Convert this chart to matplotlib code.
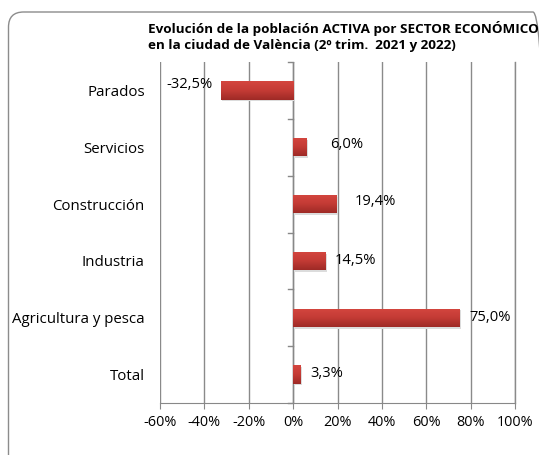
import matplotlib
matplotlib.use("Agg")
import matplotlib.pyplot as plt
import numpy as np
from matplotlib.patches import FancyBboxPatch
from matplotlib.colors import LinearSegmentedColormap

categories = ["Parados", "Servicios", "Construcción", "Industria", "Agricultura y pesca", "Total"]
values = [-32.5, 6.0, 19.4, 14.5, 75.0, 3.3]
xticks = [-60, -40, -20, 0, 20, 40, 60, 80, 100]
xticklabels = ["-60%", "-40%", "-20%", "0%", "20%", "40%", "60%", "80%", "100%"]
# label offsets (points) as placed in the original
label_dx = [-6, 17, 13, 6.5, 7, 7]
label_dy = [4, 2, 1.5, 0, 0, 0.5]

W, H = 539, 455
fig = plt.figure(figsize=(W/100, H/100), dpi=100)
plt.rcParams['font.family'] = ['Open Sans', 'DejaVu Sans']

# rounded frame (right and bottom edges lie outside the picture)
frame = FancyBboxPatch((8.5/W, -0.2), (548 - 8.5)/W, 1.2 - 12/H,
                       boxstyle="round,pad=0,rounding_size=0.028",
                       transform=fig.transFigure, fill=False, edgecolor="#8c8c8c", lw=1.0,
                       mutation_aspect=W/H)
fig.patches.append(frame)

ax = fig.add_axes([160/W, 1 - 403/H, (515-160)/W, (403-62)/H])
n = len(categories)
ypos = list(range(n))[::-1]
bars = ax.barh(ypos, values, height=0.32, color="#C43B35", edgecolor="none", zorder=3)

# vertical gradient on bars (light on top, darker at bottom)
grad = np.linspace(0, 1, 64).reshape(-1, 1)
cmap = LinearSegmentedColormap.from_list("g", ["#D4463F", "#C43B35", "#9E2A26"])
for b in bars:
    x0, y0 = b.get_x(), b.get_y()
    w, h = b.get_width(), b.get_height()
    im = ax.imshow(grad, extent=[x0, x0 + w, y0, y0 + h], origin='upper', aspect='auto',
                   cmap=cmap, zorder=4)
    im.set_clip_path(b)
    ax.barh(y0 + h/2 - 0.03, w, left=x0 + 0.6, height=h, color="#dcdcdc",
            zorder=2.5, edgecolor="none")

ax.set_xlim(-60, 100)
ax.set_ylim(-0.5, n - 0.5)
ax.set_xticks(xticks)
ax.set_xticklabels(xticklabels, fontsize=10.4)
ax.set_yticks(ypos)
ax.set_yticklabels(categories, fontsize=10.8)
ax.tick_params(axis='y', length=0, pad=11)
ax.tick_params(axis='x', length=4, color="#888888", pad=5)
ax.grid(axis='x', color="#8a8a8a", lw=1.0, zorder=0)
for s in ['top', 'right', 'left']:
    ax.spines[s].set_visible(False)
ax.spines['bottom'].set_color("#888888")
ax.axvline(0, color="#888888", lw=1.0, zorder=2)
ax.axvline(100, color="#8a8a8a", lw=1.0, zorder=0, clip_on=False)
# category boundary ticks on zero axis
for b in range(n + 1):
    ax.plot([-2.2, 0], [b - 0.5, b - 0.5], color="#888888", lw=1.0, zorder=2, clip_on=False)

for y, v, dx, dy in zip(ypos, values, label_dx, label_dy):
    txt = f"{v:.1f}%".replace(".", ",")
    ax.annotate(txt, (v, y), xytext=(dx, dy), textcoords='offset points',
                ha='right' if v < 0 else 'left', va='center', fontsize=10.6, zorder=6)

fig.text(148/W, 1 - 28/H, "Evolución de la población ACTIVA por SECTOR ECONÓMICO", fontsize=9.7, fontweight='bold', va='center', ha='left')
fig.text(148/W, 1 - 46/H, "en la ciudad de València (2º trim.  2021 y 2022)", fontsize=9.7, fontweight='bold', va='center', ha='left')

fig.savefig("out.png", dpi=100)
